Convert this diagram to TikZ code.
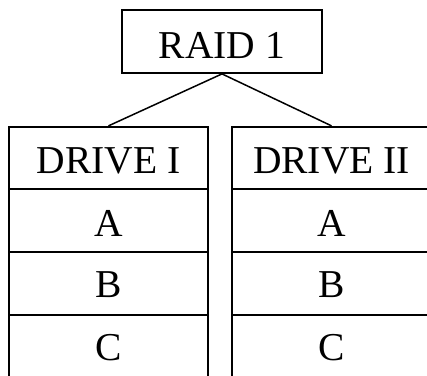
\documentclass[tikz,border=0pt]{standalone}
\usepackage{fontspec}
\setmainfont{Liberation Serif}
\begin{document}
\begin{tikzpicture}[x=1pt,y=-1pt,
  cell/.style={draw=black,line width=1.8pt,rectangle,inner sep=0pt,minimum width=199pt,minimum height=62.5pt},
  lbl/.style={anchor=base,inner sep=0pt,font=\fontsize{39.5}{40}\selectfont},
  link/.style={draw=black,line width=1.5pt}]
\useasboundingbox (0,0) rectangle (427,375);
\clip (0,0) rectangle (427,375);
% top box
\node[cell,minimum width=200pt,minimum height=63pt] (raid) at (222,41.5) {};
\node[lbl] (raidt) at (222,58.3) {RAID 1};
% drive I
\node[cell] (d1) at (108.5,158) {};
\node[cell] (d1a) at (108.5,220.5) {};
\node[cell] (d1b) at (108.5,283.5) {};
\node[cell] (d1c) at (108.5,346.5) {};
% drive II
\node[cell] (d2) at (331.5,158) {};
\node[cell] (d2a) at (331.5,220.5) {};
\node[cell] (d2b) at (331.5,283.5) {};
\node[cell] (d2c) at (331.5,346.5) {};
% labels
\node[lbl] (d1t) at (108.5,173.3) {DRIVE I};
\node[lbl] (d1at) at (108.5,236) {A};
\node[lbl] (d1bt) at (108.5,297.5) {B};
\node[lbl] (d1ct) at (108.5,360.5) {C};
\node[lbl] (d2t) at (331.5,173.3) {DRIVE II};
\node[lbl] (d2at) at (331.5,236) {A};
\node[lbl] (d2bt) at (331.5,297.5) {B};
\node[lbl] (d2ct) at (331.5,360.5) {C};
% connectors
\draw[link] (raid.south) -- (d1.north);
\draw[link] (raid.south) -- (d2.north);
\end{tikzpicture}
\end{document}
